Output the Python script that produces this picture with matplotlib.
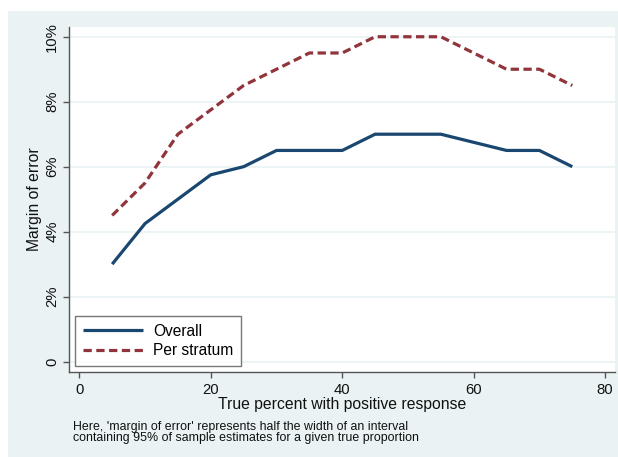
import matplotlib.pyplot as plt
from matplotlib.patches import Rectangle
from matplotlib.ticker import FuncFormatter

plt.rcParams['font.family'] = ['Liberation Sans', 'DejaVu Sans']

# data
true_pct = [5, 10, 15, 20, 25, 30, 35, 40, 45, 50, 55, 60, 65, 70, 75]
overall = [3.0, 4.25, 5.0, 5.75, 6.0, 6.5, 6.5, 6.5, 7.0, 7.0, 7.0, 6.75, 6.5, 6.5, 6.0]
per_stratum = [4.5, 5.5, 7.0, 7.75, 8.5, 9.0, 9.5, 9.5, 10.0, 10.0, 10.0, 9.5, 9.0, 9.0, 8.5]

x_ticks = [0, 20, 40, 60, 80]
y_ticks = [0, 2, 4, 6, 8, 10]

bg = '#eaf2f3'
navy = '#1a476f'
maroon = '#90353b'
axcol = '#555555'

W, H = 618, 457
fig = plt.figure(figsize=(W / 100, H / 100), dpi=100)
fig.patch.set_facecolor('white')
fig.add_artist(Rectangle((8 / W, 0), 1 - 8 / W, 1 - 11 / H,
                         transform=fig.transFigure, facecolor=bg,
                         edgecolor='none', zorder=-5))

ax = fig.add_axes([69 / W, 1 - 372 / H, (615 - 69) / W, (372 - 27) / H])
ax.set_facecolor('white')

ax.plot(true_pct, overall, color=navy, lw=2.3, label='Overall', solid_capstyle='butt')
ax.plot(true_pct, per_stratum, color=maroon, lw=2.3, ls=(0, (2.6, 1.4)), label='Per stratum')

ax.set_xlim(-1.57, 81.5)
ax.set_ylim(-0.32, 10.3)
ax.set_xticks(x_ticks)
ax.set_yticks(y_ticks)
ax.yaxis.set_major_formatter(FuncFormatter(lambda v, p: '0' if v == 0 else f'{v:.0f}%'))
ax.grid(axis='y', color=bg, lw=1.2)
ax.set_axisbelow(True)

for s in ['top', 'right']:
    ax.spines[s].set_visible(False)
for s in ['left', 'bottom']:
    ax.spines[s].set_color(axcol)
    ax.spines[s].set_linewidth(1.0)

ax.tick_params(axis='both', colors=axcol, length=4, width=1.0, labelsize=10.7, labelcolor='#111111')
ax.tick_params(axis='x', pad=4)
ax.tick_params(axis='y', pad=3)
for lab in ax.get_yticklabels():
    lab.set_rotation(90)
    lab.set_va('center')

ax.set_xlabel('True percent with positive response', fontsize=11.3, labelpad=0, color='#111111')
ax.set_ylabel('Margin of error', fontsize=11.3, labelpad=2, color='#111111')

leg = ax.legend(loc='lower left', bbox_to_anchor=(0.011, 0.017), borderaxespad=0,
                fancybox=False, fontsize=11.2, handlelength=3.9, handletextpad=0.6,
                borderpad=0.5, labelspacing=0.3)
leg.get_frame().set_edgecolor(axcol)
leg.get_frame().set_linewidth(1.0)

fig.text(73 / W, 1 - 427 / H, "Here, 'margin of error' represents half the width of an interval",
         fontsize=8.9, va='center', ha='left', color='#111111')
fig.text(73 / W, 1 - 438.5 / H, "containing 95% of sample estimates for a given true proportion",
         fontsize=8.9, va='center', ha='left', color='#111111')

fig.savefig('out.png', dpi=100)
